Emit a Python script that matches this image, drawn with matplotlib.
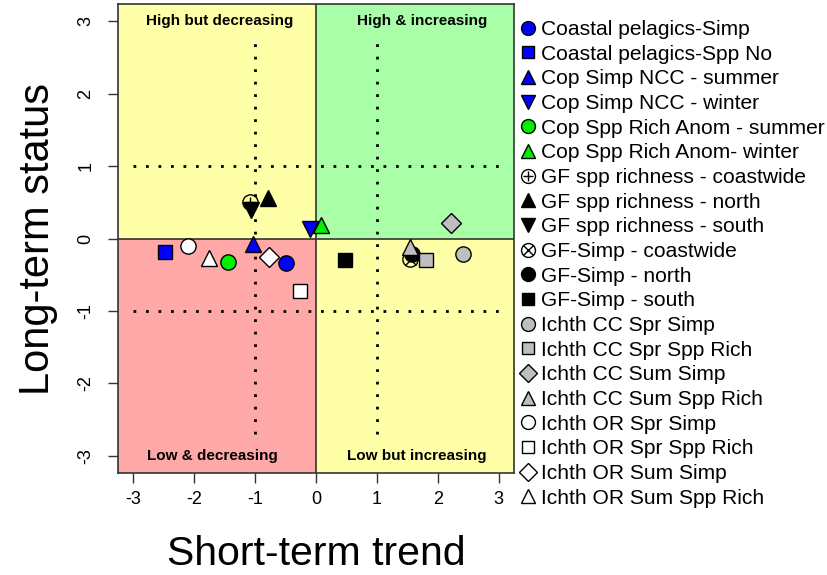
import matplotlib
matplotlib.use("Agg")
from matplotlib import pyplot as plt
from matplotlib.lines import Line2D

plt.rcParams["font.family"] = ["Liberation Sans", "DejaVu Sans"]

# indicator names, short-term trend (x) and long-term status (y)
labels = [
    "Coastal pelagics-Simp", "Coastal pelagics-Spp No",
    "Cop Simp NCC - summer", "Cop Simp NCC - winter",
    "Cop Spp Rich Anom - summer", "Cop Spp Rich Anom- winter",
    "GF spp richness - coastwide", "GF spp richness - north", "GF spp richness - south",
    "GF-Simp - coastwide", "GF-Simp - north", "GF-Simp - south",
    "Ichth CC Spr Simp", "Ichth CC Spr Spp Rich", "Ichth CC Sum Simp", "Ichth CC Sum Spp Rich",
    "Ichth OR Spr Simp", "Ichth OR Spr Spp Rich", "Ichth OR Sum Simp", "Ichth OR Sum Spp Rich",
]
trend = [-0.49, -2.48, -1.03, -0.10, -1.45, 0.09,
         -1.09, -0.78, -1.06,
         1.55, 1.57, 0.47,
         2.41, 1.80, 2.21, 1.55,
         -2.10, -0.26, -0.77, -1.75]
status = [-0.34, -0.19, -0.07, 0.13, -0.32, 0.19,
          0.51, 0.56, 0.39,
          -0.28, -0.21, -0.30,
          -0.21, -0.29, 0.21, -0.11,
          -0.10, -0.72, -0.26, -0.27]

quad_text = ["High but decreasing", "High & increasing", "Low & decreasing", "Low but increasing"]
ticks = [-3, -2, -1, 0, 1, 2, 3]

# marker style per indicator: (marker, face colour); "plus"/"cross" = open circle with a sign
styles = [("o", "#0000ff"), ("s", "#0000ff"), ("^", "#0000ff"), ("v", "#0000ff"),
          ("o", "#00ee00"), ("^", "#00ee00"),
          ("plus", "none"), ("^", "black"), ("v", "black"),
          ("cross", "none"), ("o", "black"), ("s", "black"),
          ("o", "#bebebe"), ("s", "#bebebe"), ("D", "#bebebe"), ("^", "#bebebe"),
          ("o", "white"), ("s", "white"), ("D", "white"), ("^", "white")]

fig = plt.figure(figsize=(8.28, 5.75), dpi=100)
ax = fig.add_axes([0.1425, 0.177, 0.4783, 0.816])
lim = 3.25
ax.set_xlim(-lim, lim)
ax.set_ylim(-3.24, 3.24)

# quadrant backgrounds
ax.fill_between([-lim, 0], 0, 3.24, color="#ffffa8", zorder=0, lw=0)
ax.fill_between([0, lim], 0, 3.24, color="#a8ffa8", zorder=0, lw=0)
ax.fill_between([-lim, 0], -3.24, 0, color="#ffa8a8", zorder=0, lw=0)
ax.fill_between([0, lim], -3.24, 0, color="#ffffa8", zorder=0, lw=0)
ax.axhline(0, color="#333333", lw=1.2, zorder=1)
ax.axvline(0, color="#333333", lw=1.2, zorder=1)

dots = (0, (1, 3.5))
for yy in (-1, 1):
    ax.plot([-3, 3], [yy, yy], color="black", lw=2, linestyle=dots, zorder=1)
for xx in (-1, 1):
    ax.plot([xx, xx], [-2.7, 2.7], color="black", lw=2, linestyle=dots, zorder=1)

ax.text(-1.58, 3.0, quad_text[0], ha="center", va="center", fontsize=11, fontweight="bold")
ax.text(1.74, 3.0, quad_text[1], ha="center", va="center", fontsize=11, fontweight="bold")
ax.text(-1.7, -3.0, quad_text[2], ha="center", va="center", fontsize=11, fontweight="bold")
ax.text(1.66, -3.0, quad_text[3], ha="center", va="center", fontsize=11, fontweight="bold")

ms = 11
lms = 10
handles = []
for lab, x, y, (mk, fc) in zip(labels, trend, status, styles):
    if mk in ("plus", "cross"):
        sign = "+" if mk == "plus" else "x"
        ax.plot(x, y, "o", ms=ms, mfc="none", mec="black", mew=1.0, zorder=3)
        ax.plot(x, y, sign, ms=ms * 0.72, mec="black", mew=1.0, zorder=3)
        h = (Line2D([], [], marker="o", ls="", ms=lms, mfc="none", mec="black", mew=1.0),
             Line2D([], [], marker=sign, ls="", ms=lms * 0.72, mec="black", mew=1.0))
    else:
        k = 0.9 if mk in ("s", "D") else 1.0
        ax.plot(x, y, mk, ms=ms * k, mfc=fc, mec="black", mew=1.0, zorder=3)
        h = Line2D([], [], marker=mk, ls="", ms=lms * k, mfc=fc, mec="black", mew=1.0)
    handles.append(h)

ax.set_xticks(ticks)
ax.set_yticks(ticks)
ax.set_xticklabels([str(t) for t in ticks])
ax.set_yticklabels([str(t) for t in ticks], rotation=90, va="center")
ax.tick_params(direction="out", length=7, width=1, labelsize=13, pad=6, color="#333333")
ax.tick_params(axis="y", pad=10)
for sp in ax.spines.values():
    sp.set_color("#333333")
    sp.set_linewidth(1.2)

ax.set_xlabel("Short-term trend", fontsize=29.5, labelpad=19)
ax.set_ylabel("Long-term status", fontsize=30, labelpad=14)

fig.legend(handles, labels, loc="upper left", bbox_to_anchor=(0.627, 0.965),
           frameon=False, fontsize=15.1, handlelength=0.8, handletextpad=0.22,
           labelspacing=0.27, borderaxespad=0, borderpad=0)

plt.savefig("out.png", dpi=100)
